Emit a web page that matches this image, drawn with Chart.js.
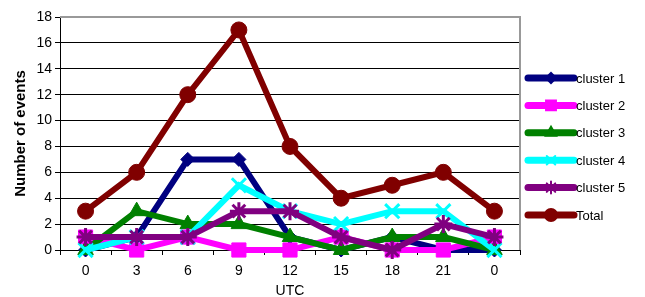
<!DOCTYPE html>
<html>
<head>
<meta charset="utf-8">
<script src="https://cdn.jsdelivr.net/npm/chart.js@4.4.1/dist/chart.umd.min.js"></script>
<style>
  html, body { margin: 0; padding: 0; background: #fff; }
  #wrap { width: 645px; height: 297px; }
</style>
</head>
<body>
<div id="wrap"><canvas id="chart" width="645" height="297"></canvas></div>
<script>
// values
var hours = ['0', '3', '6', '9', '12', '15', '18', '21', '0'];
var cluster1 = [0, 1, 7, 7, 1, 0, 1, 0, 0];
var cluster2 = [1, 0, 1, 0, 0, 1, 0, 0, 1];
var cluster3 = [0, 3, 2, 2, 1, 0, 1, 1, 0];
var cluster4 = [0, 1, 1, 5, 3, 2, 3, 3, 0];
var cluster5 = [1, 1, 1, 3, 3, 1, 0, 2, 1];
var total = [3, 6, 12, 17, 8, 4, 5, 6, 3];
var yTicks = [0, 2, 4, 6, 8, 10, 12, 14, 16, 18];

var FONT = '"Liberation Sans", Arial, sans-serif';

function series(label, data, color, style, radius, width, order, legendRadius) {
    return {
        label: label,
        data: data,
        borderColor: color,
        backgroundColor: color,
        pointBackgroundColor: color,
        pointBorderColor: color,
        borderWidth: 6,
        pointStyle: style,
        pointRadius: radius,
        pointHoverRadius: radius,
        pointBorderWidth: width,
        tension: 0,
        clip: false,
        order: order,
        legendRadius: legendRadius
    };
}

// draws the grey plot-area frame (top and right)
var frame = {
    id: 'frame',
    beforeDatasetsDraw: function (chart) {
        var a = chart.chartArea, ctx = chart.ctx;
        ctx.save();
        ctx.strokeStyle = '#999';
        ctx.lineWidth = 2;
        ctx.beginPath();
        ctx.moveTo(a.left, a.top);
        ctx.lineTo(a.right, a.top);
        ctx.lineTo(a.right, a.bottom);
        ctx.stroke();
        ctx.restore();
    }
};

// Excel-like legend: thick line sample with the marker in the middle
var sideLegend = {
    id: 'sideLegend',
    afterDraw: function (chart) {
        var ctx = chart.ctx;
        var x0 = 528, x1 = 574, y = 78, step = 27.4;
        chart.data.datasets.forEach(function (ds, i) {
            var yy = y + i * step;
            ctx.save();
            ctx.strokeStyle = ds.borderColor;
            ctx.lineWidth = 7;
            ctx.lineCap = 'round';
            ctx.beginPath();
            ctx.moveTo(x0, yy);
            ctx.lineTo(x1, yy);
            ctx.stroke();
            ctx.fillStyle = ds.borderColor;
            ctx.strokeStyle = ds.borderColor;
            ctx.lineWidth = 2;
            Chart.helpers.drawPoint(ctx, {
                pointStyle: ds.pointStyle,
                radius: ds.legendRadius,
                rotation: 0,
                borderWidth: 2
            }, (x0 + x1) / 2, yy);
            ctx.fillStyle = '#000';
            ctx.font = '13px ' + FONT;
            ctx.textBaseline = 'middle';
            ctx.textAlign = 'left';
            ctx.fillText(ds.label, x1 + 2, yy + 1);
            ctx.restore();
        });
    }
};

new Chart(document.getElementById('chart'), {
    type: 'line',
    data: {
        labels: hours,
        datasets: [
            series('cluster 1', cluster1, '#000080', 'rectRot', 7, 1, 5, 5),
            series('cluster 2', cluster2, '#FF00FF', 'rect', 10, 1, 4, 7),
            series('cluster 3', cluster3, '#008000', 'triangle', 9, 1, 3, 6),
            series('cluster 4', cluster4, '#00FFFF', 'crossRot', 10, 3, 2, 6),
            series('cluster 5', cluster5, '#800080', 'star', 9, 3, 1, 6),
            series('Total', total, '#800000', 'circle', 8, 1, 0, 6)
        ]
    },
    options: {
        responsive: false,
        animation: false,
        layout: { padding: { top: 17, right: 125, left: 0, bottom: 0 } },
        plugins: {
            legend: { display: false },
            tooltip: { enabled: false }
        },
        scales: {
            x: {
                offset: true,
                grid: {
                    offset: true,
                    drawOnChartArea: false,
                    drawTicks: true,
                    tickLength: 5,
                    color: '#000'
                },
                border: { color: '#000', width: 1 },
                ticks: {
                    color: '#000',
                    font: { family: FONT, size: 14 },
                    padding: 8,
                    maxRotation: 0
                },
                title: {
                    display: true,
                    text: 'UTC',
                    color: '#000',
                    font: { family: FONT, size: 14 },
                    padding: { top: 0, bottom: -3 }
                },
                afterFit: function (scale) { scale.height = 47; }
            },
            y: {
                min: 0,
                max: 18,
                afterBuildTicks: function (scale) {
                    scale.ticks = yTicks.map(function (v) { return { value: v }; });
                },
                grid: {
                    color: function (c) { return c.tick && c.tick.value === 18 ? 'rgba(0,0,0,0)' : '#000'; },
                    lineWidth: 1,
                    drawTicks: true,
                    tickLength: 5,
                    tickColor: '#000'
                },
                border: { color: '#000', width: 1 },
                ticks: {
                    color: '#000',
                    font: { family: FONT, size: 14 },
                    padding: 3
                },
                title: {
                    display: true,
                    text: 'Number of events',
                    color: '#000',
                    font: { family: FONT, size: 15, weight: 'bold' },
                    padding: { top: 12, bottom: 0 }
                },
                afterFit: function (scale) { scale.width = 60; }
            }
        }
    },
    plugins: [frame, sideLegend]
});
</script>
</body>
</html>
